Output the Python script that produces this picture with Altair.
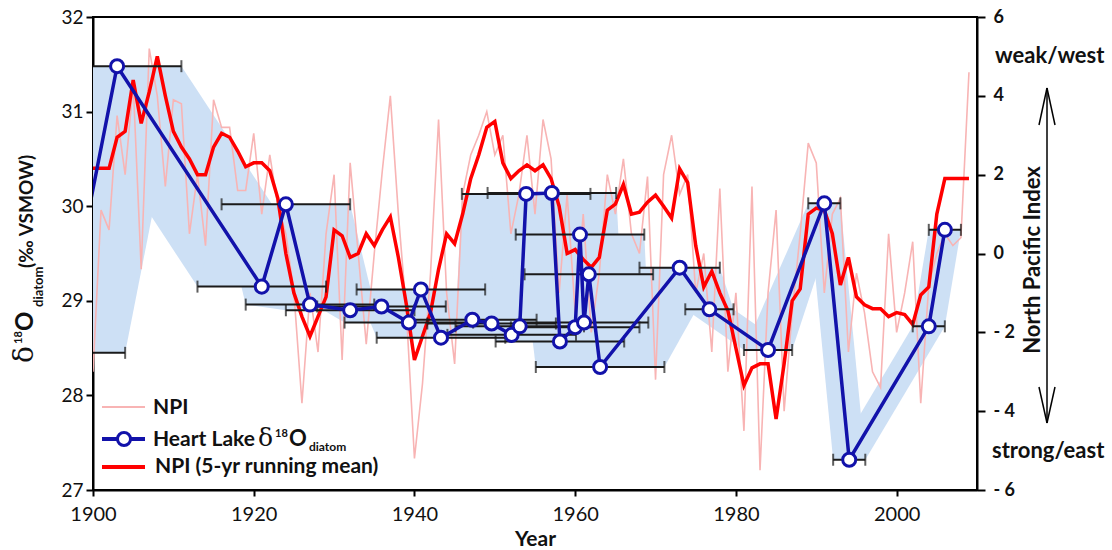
import altair as alt
import pandas as pd

# ---------------- data ----------------
npi_years = list(range(1900, 2010))
npi_annual = [
    -3.0, 1.1, 0.6, 3.5, 2.0, 4.3, -0.4, 5.2, 4.0, 1.7,   # 1900s
    3.9, 3.8, 0.5, 2.0, 0.2, 3.9, 3.2, 3.2, 1.6, 1.6,    # 1910s
    3.05, 1.0, 2.5, 1.2, 0.5, -1.0, -3.8, -1.0, -2.5, 0.5,  # 1920s
    2.0, -2.7, 2.3, 0.0, -2.3, 0.0, 2.1, 4.0, 1.0, -1.5,  # 1930s
    -5.2, -3.3, -0.5, 3.4, -1.0, -2.8, 1.5, 2.5, 3.0, 3.6,  # 1940s
    2.5, 3.0, 0.5, 1.5, 3.0, 1.0, 3.4, 2.4, -1.0, 1.5,   # 1950s
    -1.5, 1.0, -2.0, -0.5, 2.0, 1.0, 2.4, 0.5, 0.0, 1.95,  # 1960s
    -3.2, 2.0, 3.0, 1.5, 2.0, -1.0, 0.0, -2.5, 1.65, -3.0,  # 1970s
    -1.0, -4.5, 1.7, -5.5, -1.0, 1.1, -4.0, -1.5, 0.5, 2.8,  # 1980s
    2.3, -1.0, 1.0, 1.4, -2.5, -0.5, -1.5, -3.0, -3.4, 0.5,  # 1990s
    -2.0, -1.0, 0.3, -3.8, -0.8, 0.0, 0.5, 0.2, 0.4, 4.6,   # 2000s
]
npi_mean5 = [
    2.16, 2.16, 2.16, 2.95, 3.1, 4.4, 3.3, 4.1, 5.0, 4.0,
    3.1, 2.7, 2.4, 2.0, 2.0, 2.7, 3.05, 2.95, 2.6, 2.2,
    2.3, 2.3, 2.1, 1.4, 0.0, -1.0, -1.6, -2.1, -1.6, -1.1,
    0.6, 0.45, -0.1, 0.0, 0.5, 0.2, 0.6, 0.93, -0.1, -1.3,
    -2.7, -2.1, -1.5, -0.4, 0.5, 0.25, 1.0, 1.9, 2.5, 3.2,
    3.35, 2.3, 1.9, 2.1, 2.25, 2.1, 2.25, 1.9, 1.2, 0.0,
    0.1, -0.15, -0.35, -0.1, 1.1, 1.25, 1.75, 1.0, 1.05, 1.3,
    1.48, 1.2, 0.9, 2.15, 1.8, 0.2, -0.85, -0.45, -1.0, -1.45,
    -2.4, -3.35, -2.9, -2.8, -2.8, -4.2, -2.8, -1.2, -0.9, 1.0,
    1.15, 1.1, 0.5, -0.8, -0.1, -1.1, -1.3, -1.4, -1.4, -1.6,
    -1.5, -1.55, -1.8, -1.05, -0.85, 1.0, 1.9, 1.9, 1.9, 1.9,
]

d18o_year = [1896.0, 1903.0, 1921.0, 1924.0, 1927.0, 1932.0, 1935.9, 1939.3,
             1940.8, 1943.3, 1947.2, 1949.6, 1952.1, 1953.1, 1953.9, 1957.1,
             1958.1, 1960.0, 1960.6, 1961.1, 1961.7, 1963.1, 1973.0, 1976.7,
             1984.0, 1991.0, 1994.1, 2004.0, 2006.0]
d18o_value = [28.45, 31.48, 29.15, 30.02, 28.96, 28.90, 28.94, 28.77,
              29.12, 28.61, 28.80, 28.76, 28.64, 28.73, 30.13, 30.14,
              28.57, 28.72, 29.70, 28.77, 29.28, 28.30, 29.35, 28.91,
              28.48, 30.03, 27.32, 28.73, 29.75]
d18o_age_err = [8, 8, 8, 8, 8, 8, 8, 8,
                8, 8, 8, 8, 8, 8, 8, 8,
                8, 8, 8, 8, 8, 8, 5, 3,
                3, 2, 2, 2, 2]

x_ticks = [1900, 1920, 1940, 1960, 1980, 2000]
left_ticks = [27, 28, 29, 30, 31, 32]
right_ticks = [-6, -4, -2, 0, 2, 4, 6]

# ---------------- tables ----------------
npi_df = pd.DataFrame({"year": npi_years, "npi": npi_annual, "mean5": npi_mean5})
pts = pd.DataFrame({
    "year": d18o_year,
    "val": d18o_value,
    "lo": [y - e for y, e in zip(d18o_year, d18o_age_err)],
    "hi": [y + e for y, e in zip(d18o_year, d18o_age_err)],
})
band_rows = []
for i in range(len(d18o_year) - 1):
    for j in (i, i + 1):
        band_rows.append({"seg": i, "val": d18o_value[j],
                          "lo": d18o_year[j] - d18o_age_err[j],
                          "hi": d18o_year[j] + d18o_age_err[j]})
band_df = pd.DataFrame(band_rows)

# ---------------- layout constants ----------------
OX, OY = 93, 17          # plot origin in page pixels
W, H = 884, 473
FONT = "Lato"
BLUE = "#1212aa"
RED = "#ff0000"
PINK = "#f8b4b4"
BAND = "#cde0f5"

xs = alt.Scale(domain=[1900, 2010], nice=False, zero=False)
ys = alt.Scale(domain=[27, 32], nice=False, zero=False)

x_axis = alt.Axis(values=x_ticks, format="d", grid=False, labelFlush=False,
                  labelFontSize=20, labelFont=FONT, labelColor="#111",
                  tickSize=6, tickWidth=2, tickColor="black",
                  domainColor="black", domainWidth=2, labelPadding=8,
                  title="Year", titleFont=FONT, titleFontSize=21,
                  titleFontWeight="bold", titleColor="#111", titlePadding=4)
y_axis = alt.Axis(values=left_ticks, grid=False, labelFontSize=19, labelFont=FONT,
                  labelColor="#111", tickSize=7, tickWidth=2, tickColor="black",
                  domainColor="black", domainWidth=2, labelPadding=3, title=None)

X = alt.X("year:Q", scale=xs, axis=x_axis)

band = alt.Chart(band_df).mark_area(orient="horizontal", color=BAND, clip=True).encode(
    y=alt.Y("val:Q", scale=ys, axis=y_axis),
    x=alt.X("lo:Q", scale=xs, axis=x_axis),
    x2="hi:Q",
    detail="seg:N",
)

pink = alt.Chart(npi_df).transform_calculate(
    yd="29.5 + datum.npi * 5 / 12"
).mark_line(color=PINK, strokeWidth=1.6, clip=True).encode(
    x=X, y=alt.Y("yd:Q", scale=ys, axis=y_axis))

red = alt.Chart(npi_df).transform_calculate(
    yd="29.5 + datum.mean5 * 5 / 12"
).mark_line(color=RED, strokeWidth=3.5, clip=True).encode(
    x=X, y=alt.Y("yd:Q", scale=ys, axis=y_axis))

err = alt.Chart(pts).mark_rule(color="#1a1a1a", strokeWidth=2, clip=True).encode(
    x=alt.X("lo:Q", scale=xs, axis=x_axis), x2="hi:Q",
    y=alt.Y("val:Q", scale=ys, axis=y_axis))
cap_lo = alt.Chart(pts).mark_tick(color="#1a1a1a", orient="vertical", size=12,
                                  thickness=2, clip=True).encode(
    x=alt.X("lo:Q", scale=xs, axis=x_axis), y=alt.Y("val:Q", scale=ys, axis=y_axis))
cap_hi = alt.Chart(pts).mark_tick(color="#1a1a1a", orient="vertical", size=12,
                                  thickness=2, clip=True).encode(
    x=alt.X("hi:Q", scale=xs, axis=x_axis), y=alt.Y("val:Q", scale=ys, axis=y_axis))

blue_line = alt.Chart(pts).mark_line(color=BLUE, strokeWidth=3.5, clip=True).encode(
    x=X, y=alt.Y("val:Q", scale=ys, axis=y_axis), order="year:Q")
blue_pts = alt.Chart(pts).mark_point(shape="circle", filled=True, fill="white",
                                     stroke=BLUE, strokeWidth=3, size=170,
                                     opacity=1, clip=True).encode(
    x=X, y=alt.Y("val:Q", scale=ys, axis=y_axis))

one = pd.DataFrame({"a": [0]})


def txt(text, x, y, size, weight="normal", font=FONT, angle=0, align="left",
        baseline="alphabetic", color="#111"):
    return alt.Chart(one).mark_text(text=text, fontSize=size, fontWeight=weight,
                                    font=font, angle=angle, align=align,
                                    baseline=baseline, color=color).encode(
        x=alt.value(x - OX), y=alt.value(y - OY))


def seg(x1, y1, x2, y2, color="black", width=1.5):
    return alt.Chart(one).mark_rule(color=color, strokeWidth=width).encode(
        x=alt.value(x1 - OX), y=alt.value(y1 - OY),
        x2=alt.value(x2 - OX), y2=alt.value(y2 - OY))


def dot(x, y):
    return alt.Chart(one).mark_point(shape="circle", filled=True, fill="white",
                                     stroke=BLUE, strokeWidth=3, size=170,
                                     opacity=1).encode(
        x=alt.value(x - OX), y=alt.value(y - OY))


decor = [
    # left axis title: δ18O_diatom (‰ VSMOW)
    txt("δ", 33, 363, 28, font="DejaVu Serif", angle=270),
    txt("18", 22, 344, 11, weight="bold", angle=270),
    txt("O", 33, 331, 24, weight="bold", angle=270),
    txt("diatom", 43, 307, 13, weight="bold", angle=270),
    txt("(‰ VSMOW)", 33, 268, 19, weight="bold", angle=270),
    # right axis title and annotations
    txt("North Pacific Index", 1040, 260, 22, weight="bold", angle=270, align="center"),
    txt("weak/west", 995, 63, 22, weight="bold"),
    txt("strong/east", 992, 458, 22, weight="bold"),
    seg(1047, 88, 1047, 423),
    seg(1047, 88, 1039, 125), seg(1047, 88, 1055, 125),
    seg(1047, 423, 1039, 387), seg(1047, 423, 1055, 387),
    # legend
    seg(102, 407, 145, 407, PINK, 2),
    txt("NPI", 153, 414, 21, weight="bold"),
    seg(102, 439, 145, 439, BLUE, 4),
    dot(124, 439),
    txt("Heart Lake", 153, 446, 21, weight="bold"),
    txt("δ", 258, 446, 25, font="DejaVu Serif"),
    txt("18", 275, 437, 11, weight="bold"),
    txt("O", 289, 446, 22, weight="bold"),
    txt("diatom", 309, 451, 12, weight="bold"),
    seg(102, 467, 145, 467, RED, 4),
    txt("NPI (5-yr running mean)", 155, 473, 21, weight="bold"),
]

inner = alt.layer(band, pink, red, err, cap_lo, cap_hi, blue_line, blue_pts, *decor)

right_axis = alt.Chart(npi_df).mark_line(opacity=0).encode(
    x=X,
    y=alt.Y("npi:Q", scale=alt.Scale(domain=[-6, 6], nice=False, zero=False),
            axis=alt.Axis(orient="right", values=right_ticks, grid=False,
                          labelExpr="datum.value < 0 ? '- ' + abs(datum.value) : '' + datum.value",
                          labelFontSize=18, labelFont=FONT, labelFontWeight="bold",
                          labelColor="#111", tickSize=8, tickWidth=2, tickColor="black",
                          domainColor="black", domainWidth=2, labelPadding=8,
                          title=None)))

chart = alt.layer(inner, right_axis).resolve_scale(y="independent").properties(
    width=W, height=H,
    autosize=alt.AutoSizeParams(type="none"),
    padding={"left": OX, "top": OY, "right": 1112 - OX - W, "bottom": 550 - OY - H},
    background="white",
).configure_view(stroke="black", strokeWidth=2)

chart.save("out.html", embed_options={"renderer": "svg", "actions": False})
